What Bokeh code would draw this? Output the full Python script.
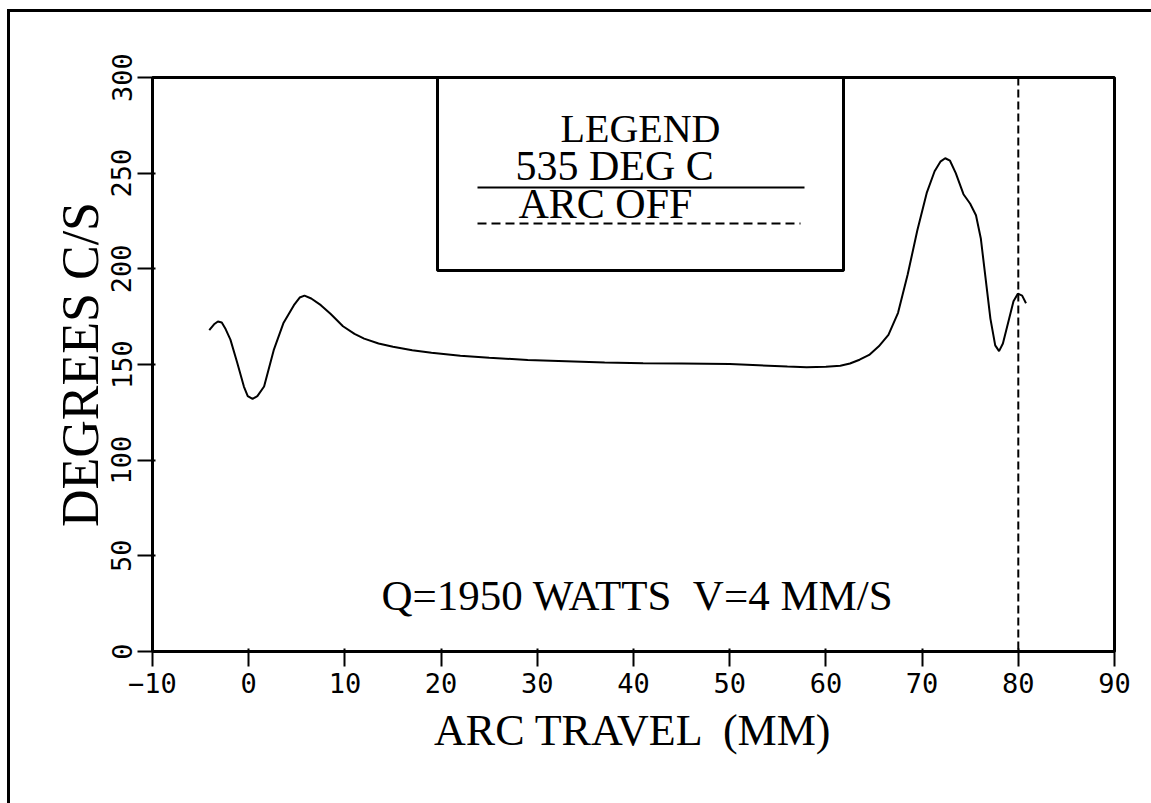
from bokeh.plotting import figure
from bokeh.models import Range1d, Span, BoxAnnotation, Label, FixedTicker
from bokeh.embed import file_html
from bokeh.resources import INLINE

# ---- data ----
arc_travel_mm = [-4.1, -3.6, -3.2, -2.8, -2.4, -1.9, -1.2, -0.5, -0.1, 0.4, 0.9, 1.6, 2.6, 3.6,
                 4.7, 5.3, 5.8, 6.5, 7.5, 8.5, 9.8, 11.0, 12.0, 13.5, 15.0, 17.0, 19.0, 22.0,
                 25.0, 29.0, 33.0, 37.0, 41.0, 45.0, 50.0, 53.0, 56.0, 58.0, 60.0, 61.5, 62.5,
                 63.5, 64.5, 65.5, 66.5, 67.5, 68.5, 69.5, 70.5, 71.3, 71.9, 72.4, 72.9, 73.5,
                 74.3, 75.0, 75.6, 76.1, 76.6, 77.1, 77.6, 78.0, 78.4, 79.0, 79.5, 79.95, 80.4,
                 80.8]
deg_c_per_s = [168.0, 171.0, 172.5, 172.0, 168.5, 163.0, 151.0, 138.5, 133.5, 132.0, 133.5,
               138.5, 157.5, 171.5, 181.0, 185.0, 186.0, 184.5, 181.0, 176.5, 170.0, 166.0,
               163.5, 161.0, 159.3, 157.5, 156.2, 154.6, 153.5, 152.4, 151.7, 151.0, 150.6,
               150.5, 150.3, 149.6, 148.9, 148.6, 148.8, 149.3, 150.5, 152.5, 155.0, 159.5,
               165.5, 177.0, 197.0, 220.0, 240.0, 251.0, 256.0, 257.8, 256.5, 250.0, 239.0,
               234.0, 228.0, 216.0, 195.0, 174.0, 160.0, 157.0, 161.0, 173.0, 183.0, 187.0,
               186.0, 182.0]
arc_off_mm = 80
x_ticks = [-10, 0, 10, 20, 30, 40, 50, 60, 70, 80, 90]
y_ticks = [0, 50, 100, 150, 200, 250, 300]
legend_title = "LEGEND"
series_name = "535 DEG C"
arc_off_name = "ARC OFF"
note_text = "Q=1950 WATTS \u00a0V=4 MM/S"
x_title = "ARC TRAVEL \u00a0(MM)"
y_title = "DEGREES C/S"

# ---- layout ----
W, H = 1151, 803
FL, FR, FT, FB = 152, 1114, 77, 651
X0, X1, Y0, Y1 = -10, 90, 0, 300
LBL_SHIFT = 15  # label anchor correction (px)

def dx(px):
    return X0 + (px - FL) / (FR - FL) * (X1 - X0)

def dy(py):
    return Y0 + (FB - py) / (FB - FT) * (Y1 - Y0)

SERIF = "Liberation Serif"
MONO = "DejaVu Sans Mono"

p = figure(width=W, height=H, output_backend="svg", toolbar_location=None,
           x_range=Range1d(X0, X1), y_range=Range1d(Y0, Y1),
           min_border_left=FL, min_border_right=W - FR, min_border_top=FT, min_border_bottom=H - FB)
p.xgrid.visible = False
p.ygrid.visible = False
p.background_fill_color = "white"
p.border_fill_color = "white"
p.border_fill_alpha = 0
p.outline_line_color = "black"
p.outline_line_width = 3
# page frame of the scanned sheet (left and top edges)
p.styles = {
    "background-color": "white",
    "background-image": "linear-gradient(black, black), linear-gradient(black, black)",
    "background-size": "3px 100%, 100% 3px",
    "background-position": "7px 9px, 7px 9px",
    "background-repeat": "no-repeat",
}

for ax, ticks in ((p.xaxis, x_ticks), (p.yaxis, y_ticks)):
    ax.ticker = FixedTicker(ticks=ticks)
    ax.minor_tick_line_color = None
    ax.major_tick_out = 15
    ax.major_tick_in = 3
    ax.major_tick_line_width = 2
    ax.major_tick_line_color = "black"
    ax.axis_line_width = 3
    ax.axis_line_color = "black"
    ax.major_label_text_font = MONO
    ax.major_label_text_font_size = "27px"
    ax.major_label_text_color = "black"
    ax.major_label_standoff = 6
    ax.axis_label_text_font = SERIF
    ax.axis_label_text_font_style = "normal"
    ax.axis_label_text_color = "black"
p.yaxis.major_label_orientation = "vertical"
p.xaxis.axis_label = x_title
p.yaxis.axis_label = y_title
p.xaxis.axis_label_text_font_size = "44px"
p.yaxis.axis_label_text_font_size = "52px"
p.xaxis.axis_label_standoff = 10
p.yaxis.axis_label_standoff = 0

# curve
p.line(arc_travel_mm, deg_c_per_s, line_color="black", line_width=2)

# arc-off marker
p.add_layout(Span(location=arc_off_mm, dimension="height", line_color="black",
                  line_width=2, line_dash="8 4"))

# legend box
p.add_layout(BoxAnnotation(left=dx(437), right=dx(843), top=Y1, bottom=dy(270),
                           fill_alpha=0, line_color="black", line_alpha=1, line_width=3))
p.add_layout(Label(x=dx(640), y=dy(143 - LBL_SHIFT), text=legend_title, text_align="center",
                   text_baseline="alphabetic", text_font=SERIF, text_font_size="40px",
                   text_color="black"))
p.add_layout(Label(x=dx(515), y=dy(180 - LBL_SHIFT), text=series_name, text_align="left",
                   text_baseline="alphabetic", text_font=SERIF, text_font_size="42px",
                   text_color="black"))
p.line([dx(477), dx(804)], [dy(187), dy(187)], line_color="black", line_width=2)
p.add_layout(Label(x=dx(518), y=dy(218 - LBL_SHIFT), text=arc_off_name, text_align="left",
                   text_baseline="alphabetic", text_font=SERIF, text_font_size="42px",
                   text_color="black"))
p.line([dx(477), dx(800)], [dy(223), dy(223)], line_color="black", line_width=2,
       line_dash="9 5")

# annotation
p.add_layout(Label(x=dx(381), y=dy(610 - LBL_SHIFT), text=note_text, text_align="left",
                   text_baseline="alphabetic", text_font=SERIF, text_font_size="43px",
                   text_color="black"))

open("out.html", "w").write(file_html(p, INLINE))
